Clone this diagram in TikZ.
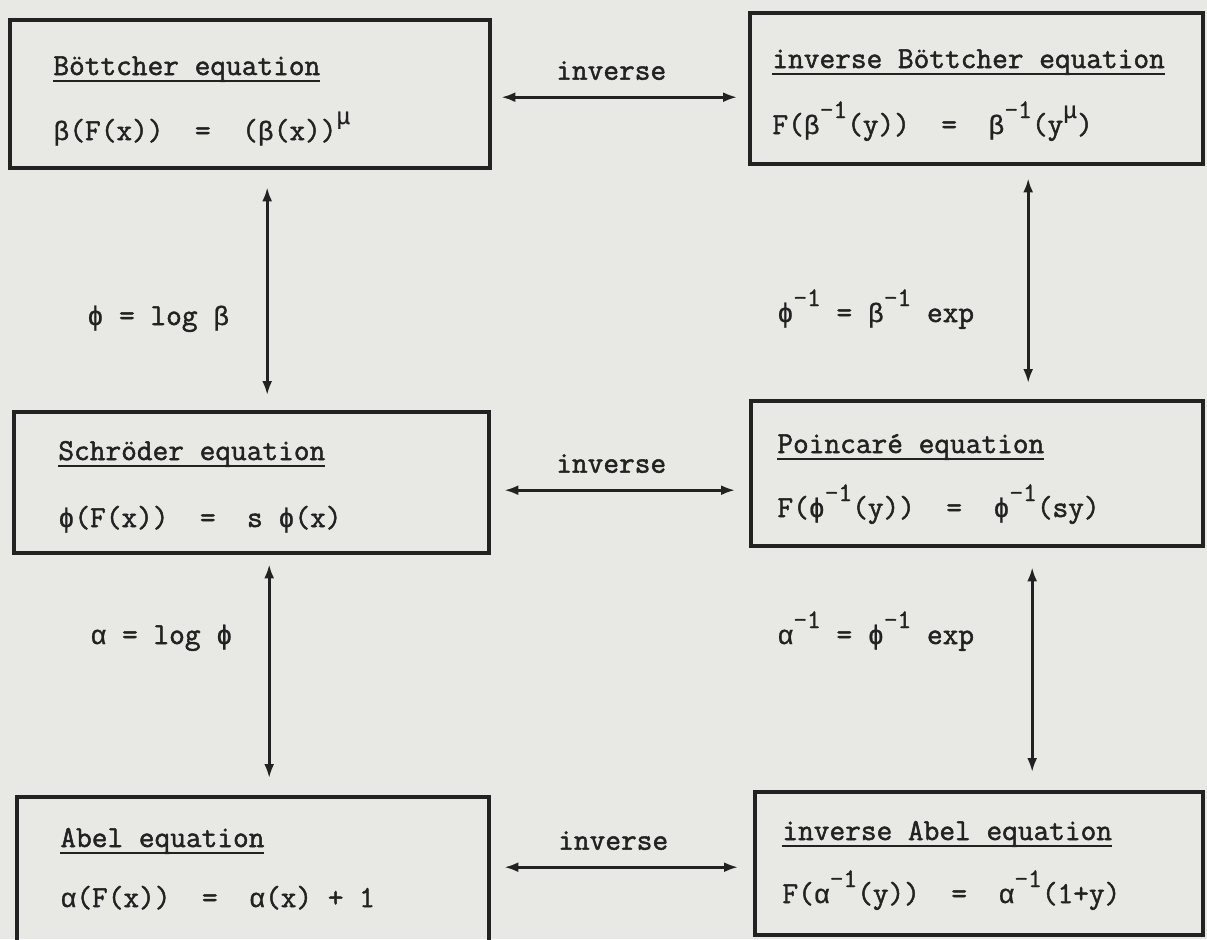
\documentclass[tikz,border=0pt]{standalone}
\usepackage{fontspec}
\newfontfamily\typew[FakeBold=1.6]{Latin Modern Mono}
\newfontfamily\grk[Scale=0.875, FakeBold=0.8]{Liberation Mono}
\usepackage{xcolor}
\usetikzlibrary{positioning,arrows.meta}
\definecolor{paper}{HTML}{E8E9E4}
\definecolor{ink}{HTML}{222222}
\newcommand\gbeta{{\grk β}}
\newcommand\gphi{{\grk ϕ}}
\newcommand\galpha{{\grk α}}
\newcommand\gmu{{\grk μ}}
\newcommand\up[1]{\raisebox{8pt}{\fontsize{13.3}{13.3}\selectfont #1}}
\newcommand\tunder[1]{\setbox0\hbox{#1}\rlap{\rule[-3.5pt]{\wd0}{1pt}}\box0}

\begin{document}
\begin{tikzpicture}[
  x=0.5pt, y=-0.5pt,
  font=\typew\fontsize{15.24}{18}\selectfont,
  eqbox/.style={draw=ink, line width=2.2pt, inner sep=0pt, anchor=north west},
  txt/.style={anchor=base west, inner sep=0pt, text=ink},
  invlbl/.style={midway, above=8pt, xshift=-4.5pt, inner sep=0pt, text=ink},
  arr/.style={{Latex[length=7pt,width=5pt]}-{Latex[length=7pt,width=5pt]}, line width=1.3pt, draw=ink},
]
\useasboundingbox (0,0) rectangle (1207,939);
\fill[paper] (0,0) rectangle (1207,939);
% the six equation boxes
\node[eqbox, minimum width=240pt, minimum height=74pt] (boett) at (8,18) {};
\node[eqbox, minimum width=226.5pt, minimum height=75.5pt] (iboett) at (748,11) {};
\node[eqbox, minimum width=237.5pt, minimum height=70.5pt] (schr) at (12,410) {};
\node[eqbox, minimum width=226pt, minimum height=72.5pt] (poinc) at (749,399) {};
\node[eqbox, minimum width=236pt, minimum height=74pt] (abel) at (15,795) {};
\node[eqbox, minimum width=224pt, minimum height=71.5pt] (iabel) at (753,790) {};
% titles and equations
\node[txt] (boettT) at (53,75) {\tunder{Böttcher equation}};
\node[txt] (boettE) at (53,140) {\gbeta(F(x))~~=~~(\gbeta(x))\up{\gmu}};
\node[txt] (iboettT) at (772,68) {\tunder{inverse Böttcher equation}};
\node[txt] (iboettE) at (772,134) {F(\gbeta\up{-1}(y))~~=~~\gbeta\up{-1}(y\up{\gmu})};
\node[txt] (schrT) at (58,460) {\tunder{Schröder equation}};
\node[txt] (schrE) at (58,527) {\gphi(F(x))~~=~~s~\gphi(x)};
\node[txt] (poincT) at (777,453) {\tunder{Poincaré equation}};
\node[txt] (poincE) at (777,517) {F(\gphi\up{-1}(y))~~=~~\gphi\up{-1}(sy)};
\node[txt] (abelT) at (60,847) {\tunder{Abel equation}};
\node[txt] (abelE) at (60,907) {\galpha(F(x))~~=~~\galpha(x)~+~1};
\node[txt] (iabelT) at (782,840) {\tunder{inverse Abel equation}};
\node[txt] (iabelE) at (782,903) {F(\galpha\up{-1}(y))~~=~~\galpha\up{-1}(1+y)};
% inverse arrows
\draw[arr, shorten <=4.5pt, shorten >=5.5pt] ([yshift=-1.5pt]boett.east) -- ([yshift=-1.5pt]boett.east -| iboett.west)
  node[invlbl] (invA) {inverse};
\draw[arr, shorten <=6.5pt, shorten >=7pt] ([yshift=-3.75pt]schr.east) -- ([yshift=-3.75pt]schr.east -| poinc.west)
  node[invlbl] (invB) {inverse};
\draw[arr, shorten <=6.5pt, shorten >=7.5pt] ([yshift=2pt]abel.east) -- ([yshift=2pt]abel.east -| iabel.west)
  node[invlbl] (invC) {inverse};
% vertical arrows
\draw[arr, shorten <=8.5pt, shorten >=7.5pt] ([xshift=8.5pt]boett.south) -- ([xshift=8.5pt]boett.south |- schr.north);
\draw[arr, shorten <=4.5pt, shorten >=8.5pt] ([xshift=8.75pt]schr.south) -- ([xshift=8.75pt]schr.south |- abel.north);
\draw[arr, shorten <=6pt, shorten >=8pt] ([xshift=25.75pt]iboett.south) -- ([xshift=25.75pt]iboett.south |- poinc.north);
\draw[arr, shorten <=9.5pt, shorten >=9pt] ([xshift=27.5pt]poinc.south) -- ([xshift=27.5pt]poinc.south |- iabel.north);
% side labels
\node[txt] (logbeta) at (87,325) {\gphi~=~log~\gbeta};
\node[txt] (logphi) at (90,644) {\galpha~=~log~\gphi};
\node[txt] (expbeta) at (777,322) {\gphi\up{-1}~=~\gbeta\up{-1}~exp};
\node[txt] (expphi) at (777,644) {\galpha\up{-1}~=~\gphi\up{-1}~exp};
\end{tikzpicture}
\end{document}
